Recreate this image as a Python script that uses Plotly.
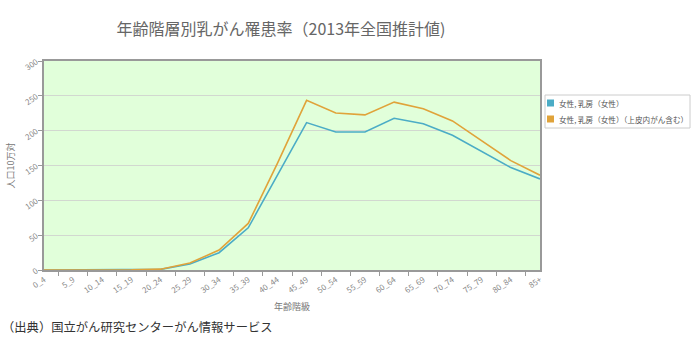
import plotly.graph_objects as go

categories = ["0_4","5_9","10_14","15_19","20_24","25_29","30_34","35_39","40_44",
              "45_49","50_54","55_59","60_64","65_69","70_74","75_79","80_84","85+"]
invasive = [0, 0, 0, 0.2, 0.9, 8.6, 24.8, 60.6, 136, 211.6, 198, 198, 217.8, 210, 193.4, 170.5, 147, 130.8]
with_insitu = [0, 0, 0, 0.2, 1.2, 10, 28.6, 66.8, 153, 243.6, 225.4, 222.6, 241, 231.6, 214, 186, 157, 136]
names = ["女性, 乳房（女性）", "女性, 乳房（女性）（上皮内がん含む）"]
colors = ["#4bacc6", "#e0a33a"]

font = "Noto Sans CJK JP"
W, H = 694, 350
L, R, T, B = 44, 154, 61, 80
pw, ph = W - L - R, H - T - B

def px(x):
    return (x - L) / pw

def py(y):
    return (H - B - y) / ph

fig = go.Figure()
for vals, nm, c in zip([invasive, with_insitu], names, colors):
    fig.add_trace(go.Scatter(x=categories, y=vals, name=nm, mode="lines", showlegend=False,
                             line=dict(color=c, width=1.6)))

fig.update_layout(
    width=W, height=H,
    margin=dict(l=L, r=R, t=T, b=B, autoexpand=False),
    paper_bgcolor="white", plot_bgcolor="#e1ffda",
    font=dict(family=font, color="#666"),
    title=dict(text="年齢階層別乳がん罹患率（2013年全国推計値)", x=0.405, xanchor="center",
               y=0.915, yanchor="middle", font=dict(size=16, color="#666", family=font)),
    showlegend=False,
    xaxis=dict(tickangle=-35, tickfont=dict(size=8, color="#888"),
               showline=True, linecolor="#999", linewidth=2, mirror=True,
               ticks="outside", ticklen=4, tickcolor="#999", showgrid=False,
               tickson="boundaries",
               title=dict(text="年齢階級", font=dict(size=9, color="#777"), standoff=9)),
    yaxis=dict(range=[0, 300], dtick=50, tickangle=-35, tickfont=dict(size=8, color="#888"),
               showline=True, linecolor="#999", linewidth=2, mirror=True,
               ticks="outside", ticklen=4, tickcolor="#999",
               gridcolor="#d2d8d0", gridwidth=1, zeroline=False,
               title=dict(text="人口10万対", font=dict(size=9, color="#777"), standoff=6)),
)

# legend box (manual)
fig.add_shape(type="rect", xref="paper", yref="paper",
              x0=px(545), x1=px(690), y0=py(95), y1=py(128),
              line=dict(color="#ccc", width=1), fillcolor="white")
for i, (nm, c) in enumerate(zip(names, colors)):
    yc = 103 + i * 16
    fig.add_shape(type="rect", xref="paper", yref="paper",
                  x0=px(547), x1=px(554), y0=py(yc - 3.5), y1=py(yc + 3.5),
                  line=dict(width=0), fillcolor=c)
    fig.add_annotation(text=nm, xref="paper", yref="paper", x=px(557), y=py(yc),
                       xanchor="left", yanchor="middle", showarrow=False,
                       font=dict(size=7.6, color="#555", family=font))

fig.add_annotation(text="（出典）国立がん研究センターがん情報サービス", xref="paper", yref="paper",
                   x=-0.0887, y=-0.275, xanchor="left", yanchor="middle", showarrow=False,
                   font=dict(size=12.3, color="#333", family=font))
fig.write_html("out.html")
